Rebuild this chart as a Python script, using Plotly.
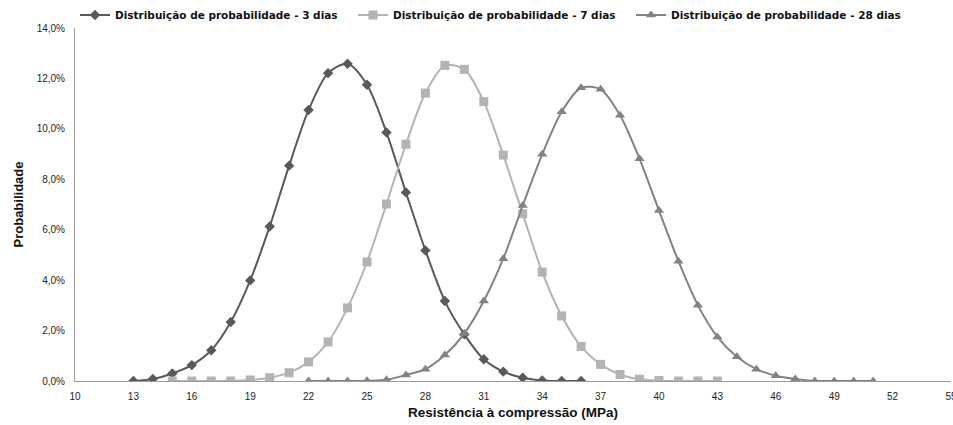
import plotly.graph_objects as go

# Compressive strength (MPa) and probability (%) for each curing age
x_3d = list(range(13, 37))
p_3d = [0.00, 0.08, 0.30, 0.63, 1.22, 2.34, 3.99, 6.13, 8.54, 10.75, 12.21, 12.58,
        11.75, 9.86, 7.48, 5.18, 3.17, 1.85, 0.86, 0.37, 0.13, 0.02, 0.00, 0.00]

x_7d = list(range(15, 44))
p_7d = [0.00, 0.00, 0.00, 0.00, 0.04, 0.13, 0.33, 0.76, 1.55, 2.90, 4.72, 7.02,
        9.39, 11.42, 12.52, 12.36, 11.08, 8.96, 6.63, 4.32, 2.58, 1.37, 0.66, 0.26,
        0.07, 0.02, 0.00, 0.00, 0.00]

x_28d = list(range(22, 52))
p_28d = [0.00, 0.00, 0.00, 0.01, 0.05, 0.24, 0.47, 1.03, 1.88, 3.17, 4.85, 6.96,
         8.99, 10.68, 11.63, 11.57, 10.54, 8.81, 6.76, 4.75, 3.00, 1.75, 0.96, 0.47,
         0.21, 0.08, 0.00, 0.00, 0.00, 0.00]

names = ["Distribuição de probabilidade - 3 dias",
         "Distribuição de probabilidade - 7 dias",
         "Distribuição de probabilidade - 28 dias"]

FONT = "Liberation Sans, Arial, sans-serif"
LEGEND_FONT = "DejaVu Sans, Verdana, sans-serif"

fig = go.Figure()

series = [
    (x_3d, p_3d, names[0], "#595959", "diamond", 8),
    (x_7d, p_7d, names[1], "#b3b3b3", "square", 9),
    (x_28d, p_28d, names[2], "#828282", "triangle-up", 9),
]
for xs, ys, name, color, symbol, size in series:
    fig.add_trace(go.Scatter(
        x=xs, y=ys, name=name, mode="lines+markers",
        line=dict(color=color, width=2, shape="spline", smoothing=0.8),
        marker=dict(symbol=symbol, size=size, color=color, line=dict(width=0)),
    ))

fig.update_layout(
    width=953, height=425,
    margin=dict(l=75, r=2, t=27, b=44),
    paper_bgcolor="white", plot_bgcolor="white",
    separators=",.",
    font=dict(family=FONT, size=10, color="#222222"),
    showlegend=True,
    legend=dict(
        orientation="h", x=0.0, xanchor="left", y=1.034, yanchor="middle",
        font=dict(family=LEGEND_FONT, size=10.5, color="#111111", weight="bold"),
        entrywidth=233, entrywidthmode="pixels",
        itemwidth=30, tracegroupgap=0, bgcolor="rgba(0,0,0,0)",
    ),
    xaxis=dict(
        range=[10, 55], tick0=10, dtick=3, showgrid=False, zeroline=False,
        showline=True, linecolor="#9a9a9a", linewidth=1, ticks="",
        ticklabelstandoff=6, ticklabeloverflow="allow", automargin=False,
        tickfont=dict(family=FONT, size=10, color="#222222"),
        title=dict(text="Resistência à compressão (MPa)", standoff=6,
                   font=dict(family=FONT, size=13.5, color="#111111", weight="bold")),
    ),
    yaxis=dict(
        range=[0, 14], dtick=2, showgrid=False, zeroline=False,
        showline=True, linecolor="#9a9a9a", linewidth=1, ticks="",
        tickformat=".1f", ticksuffix="%", ticklabelstandoff=7, automargin=False,
        tickfont=dict(family=FONT, size=10, color="#222222"),
        title=dict(text="Probabilidade", standoff=10,
                   font=dict(family=FONT, size=13, color="#111111", weight="bold")),
    ),
)

fig.write_html("out.html")
